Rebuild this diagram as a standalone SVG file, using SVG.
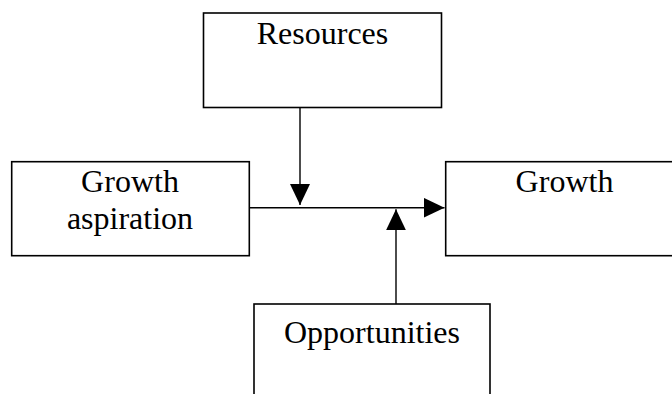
<svg xmlns="http://www.w3.org/2000/svg" width="672" height="394" viewBox="0 0 672 394">
  <style>
    .box { fill: #ffffff; stroke: #000000; stroke-width: 1.6; }
    .label { font-family: "Liberation Serif", "Times New Roman", serif; font-size: 32px; fill: #000000; text-anchor: middle; }
    .conn { stroke: #000000; stroke-width: 1.4; fill: none; marker-end: url(#arrow); }
  </style>
  <defs>
    <marker id="arrow" markerUnits="userSpaceOnUse" markerWidth="21" markerHeight="20" refX="21" refY="10" orient="auto">
      <path d="M0,0 L21,10 L0,20 Z" fill="#000000"/>
    </marker>
  </defs>
  <rect width="672" height="394" fill="#ffffff"/>

  <g id="resources">
    <rect class="box" x="203.5" y="13" width="238" height="94.5"/>
    <text class="label" x="322.5" y="44">Resources</text>
  </g>

  <g id="growth-aspiration">
    <rect class="box" x="11.7" y="161.7" width="237.6" height="94"/>
    <text class="label" x="130" y="192.3">Growth</text>
    <text class="label" x="130" y="229.3">aspiration</text>
  </g>

  <g id="growth">
    <rect class="box" x="445.7" y="161.7" width="238" height="94"/>
    <text class="label" x="564.5" y="192.3">Growth</text>
  </g>

  <g id="opportunities">
    <rect class="box" x="254" y="304" width="236" height="96"/>
    <text class="label" x="372" y="343.3">Opportunities</text>
  </g>

  <g id="connectors">
    <line class="conn" x1="300" y1="107.5" x2="300" y2="205"/>
    <line class="conn" x1="249.3" y1="207.7" x2="444.5" y2="207.7"/>
    <line class="conn" x1="396" y1="304" x2="396" y2="209.3"/>
  </g>
</svg>
